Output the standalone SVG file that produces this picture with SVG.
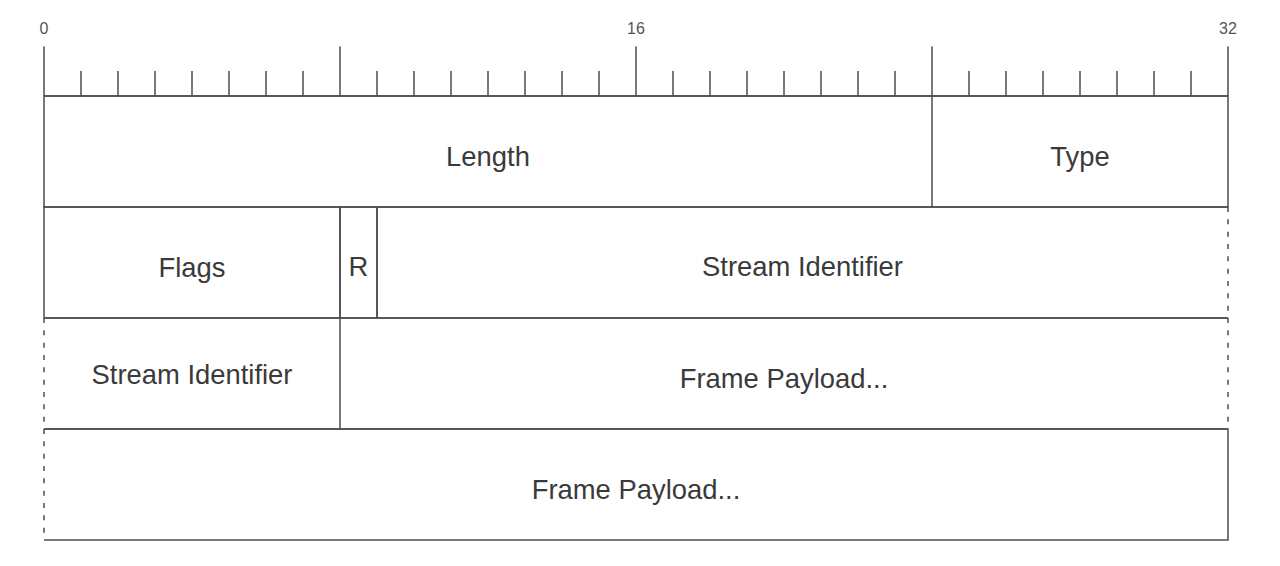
<svg xmlns="http://www.w3.org/2000/svg" width="1280" height="566" viewBox="0 0 1280 566">
<style>
.ln{stroke:#4d4d52;stroke-width:1.5;fill:none}
.ds{stroke:#4d4d52;stroke-width:1.5;fill:none;stroke-dasharray:5 7.33}
.lbl{font-family:"Liberation Sans",Arial,sans-serif;font-size:27.4px;fill:#3a3a3a;text-anchor:middle}
.num{font-family:"Liberation Sans",Arial,sans-serif;font-size:16px;fill:#555;text-anchor:middle}
</style>
<rect width="1280" height="566" fill="#fff"/>
<g id="ruler">
<text class="num" x="44" y="34">0</text>
<text class="num" x="636" y="34">16</text>
<text class="num" x="1228" y="34">32</text>
<path class="ln" d="M44,96H1228
M44,46.5V96 M340,46.5V96 M636,46.5V96 M932,46.5V96 M1228,46.5V96
M81,71V96 M118,71V96 M155,71V96 M192,71V96 M229,71V96 M266,71V96 M303,71V96
M377,71V96 M414,71V96 M451,71V96 M488,71V96 M525,71V96 M562,71V96 M599,71V96
M673,71V96 M710,71V96 M747,71V96 M784,71V96 M821,71V96 M858,71V96 M895,71V96
M969,71V96 M1006,71V96 M1043,71V96 M1080,71V96 M1117,71V96 M1154,71V96 M1191,71V96"/>
</g>
<g id="length">
<path class="ln" d="M932,96H44V207H932"/>
<text class="lbl" x="488" y="166">Length</text>
</g>
<g id="type">
<path class="ln" d="M932,96H1228V207H932Z"/>
<text class="lbl" x="1080" y="166">Type</text>
</g>
<g id="flags">
<path class="ln" d="M340,207H44V318H340Z"/>
<text class="lbl" x="192" y="277">Flags</text>
</g>
<g id="r">
<path class="ln" d="M340,207H377V318H340Z"/>
<text class="lbl" x="358.5" y="276">R</text>
</g>
<g id="stream-id-1">
<path class="ln" d="M377,207H1228 M377,318H1228 M377,207V318"/>
<path class="ds" d="M1228,207V318"/>
<text class="lbl" x="802.5" y="276">Stream Identifier</text>
</g>
<g id="stream-id-2">
<path class="ln" d="M44,318H340V429H44"/>
<path class="ds" d="M44,318V429"/>
<text class="lbl" x="192" y="384">Stream Identifier</text>
</g>
<g id="payload-1">
<path class="ln" d="M340,318H1228 M340,429H1228"/>
<path class="ds" d="M1228,318V429"/>
<text class="lbl" x="784" y="388">Frame Payload...</text>
</g>
<g id="payload-2">
<path class="ln" d="M44,429H1228V540H44"/>
<path class="ds" d="M44,429V540"/>
<text class="lbl" x="636" y="499">Frame Payload...</text>
</g>
</svg>
